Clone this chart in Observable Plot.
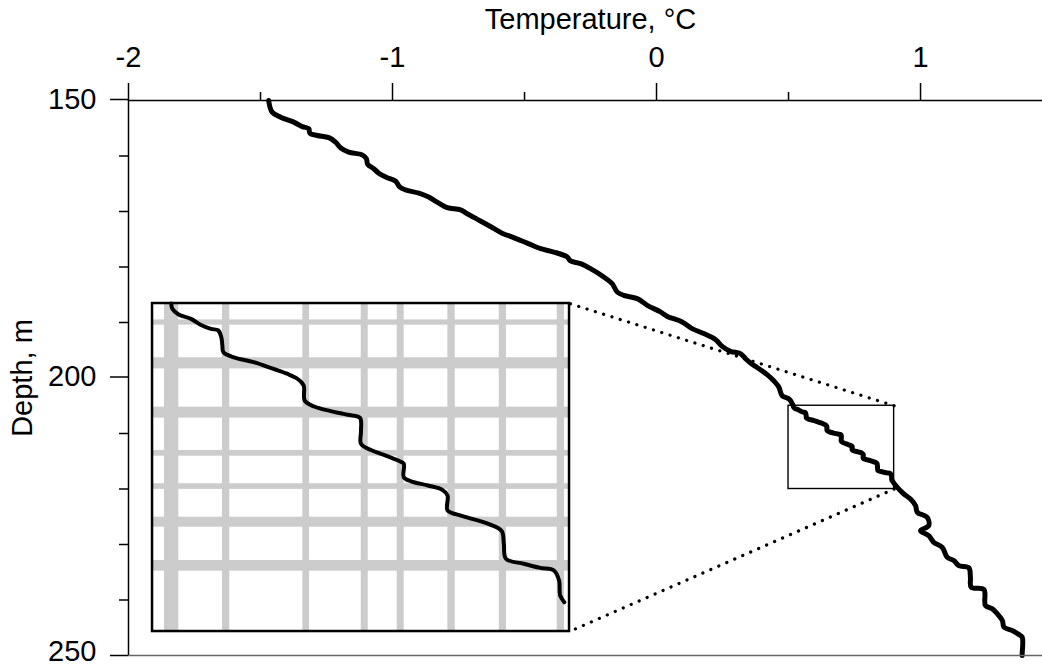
<!DOCTYPE html>
<html>
<head>
<meta charset="utf-8">
<script src="https://cdn.jsdelivr.net/npm/d3@7"></script>
<script src="https://cdn.jsdelivr.net/npm/@observablehq/plot@0.6"></script>
<style>
  html, body { margin: 0; padding: 0; background: #fff; }
  #chart svg { display: block; }
</style>
</head>
<body>
<div id="chart"></div>
<script>
// ---- data: temperature profile (depth in m, temperature in °C) ----
const depth = [
  150.0, 152.1, 153.0, 153.9, 154.7, 155.1, 155.9, 156.3, 156.7, 157.5,
  158.5, 159.3, 159.8, 160.5, 161.5, 162.3, 163.1, 163.9, 164.5, 165.6,
  166.1, 166.7, 167.4, 168.3, 169.3, 169.7, 170.4, 171.7, 172.7, 173.9,
  174.7, 175.7, 176.7, 177.3, 178.2, 178.9, 179.4, 180.3, 181.8, 183.0,
  184.5, 185.1, 185.7, 186.9, 188.1, 188.9, 189.9, 191.1, 192.0, 193.1,
  194.3, 195.2, 195.6, 196.5, 197.3, 198.1, 199.4, 200.5, 201.6, 203.2,
  203.6, 203.9, 204.7,
  205.0, 205.24, 205.5, 205.7, 205.97, 206.16, 206.23, 206.54, 206.92, 207.23,
  207.46, 207.68, 207.99, 208.21, 208.44, 208.75, 209.44, 209.71, 209.92, 210.09,
  210.23, 210.81, 211.42, 211.69, 211.98, 212.21, 212.33, 212.94, 213.13, 213.32,
  213.52, 213.78, 214.46, 214.69, 214.92, 215.11, 215.41, 215.99, 216.67, 216.90,
  217.09, 217.21, 217.67, 218.35, 218.66,
  219.7, 220.9, 221.8, 223.0, 224.2, 225.1, 226.6, 227.5, 228.4, 229.6,
  230.5, 232.3, 232.9, 233.8, 234.2, 235.9, 237.7, 238.1, 241.0, 241.6,
  242.5, 243.7, 244.9, 245.5, 246.2, 246.7, 249.7, 250.0
];
const temperature = [
  -1.469, -1.456, -1.424, -1.374, -1.342, -1.317, -1.313, -1.285, -1.241, -1.216,
  -1.197, -1.166, -1.115, -1.099, -1.094, -1.071, -1.052, -1.020, -0.989, -0.972,
  -0.951, -0.900, -0.863, -0.831, -0.793, -0.742, -0.717, -0.667, -0.629, -0.585,
  -0.541, -0.490, -0.439, -0.389, -0.338, -0.326, -0.288, -0.250, -0.200, -0.168,
  -0.149, -0.124, -0.073, -0.035, 0.015, 0.041, 0.097, 0.135, 0.179, 0.224,
  0.249, 0.280, 0.318, 0.337, 0.356, 0.381, 0.419, 0.444, 0.463, 0.476,
  0.495, 0.505, 0.515,
  0.518, 0.519, 0.525, 0.537, 0.546, 0.556, 0.563, 0.566, 0.567, 0.568,
  0.578, 0.597, 0.616, 0.629, 0.639, 0.645, 0.646, 0.655, 0.671, 0.687,
  0.699, 0.700, 0.700, 0.709, 0.725, 0.737, 0.741, 0.741, 0.748, 0.764,
  0.778, 0.783, 0.783, 0.795, 0.812, 0.824, 0.835, 0.837, 0.839, 0.856,
  0.872, 0.885, 0.890, 0.891, 0.895,
  0.912, 0.937, 0.962, 0.981, 0.988, 1.025, 1.031, 1.000, 1.031, 1.050,
  1.082, 1.101, 1.126, 1.145, 1.183, 1.189, 1.192, 1.240, 1.246, 1.272,
  1.291, 1.310, 1.316, 1.347, 1.372, 1.385, 1.385, 1.385
];

// zoomed window (data units)
const zoomTemp = [0.5, 0.9];
const zoomDepth = [205, 220];
const insetLineDepth = [205, 218.66];

// grey bands in the inset: temperature bands (°C) and depth bands (m)
const tempBandLo = [0.5115, 0.5671, 0.6442, 0.7002, 0.7347, 0.7833, 0.8326, 0.8882];
const tempBandHi = [0.5252, 0.5741, 0.6506, 0.7069, 0.7414, 0.7904, 0.8396, 0.8952];
const depthBandLo = [205.75, 207.48, 209.74, 211.72, 213.24, 214.77, 216.75];
const depthBandHi = [205.99, 207.99, 210.24, 211.98, 213.50, 215.23, 217.24];

// ticks
const xMajor = [-2, -1, 0, 1];
const xMinor = [-1.5, -0.5, 0.5];
const yMajor = [150, 200];
const yBottom = [250];
const yMinor = [160, 170, 180, 190, 210, 220, 230, 240];

// ---- layout ----
const insetBox = {t0: -1.909, t1: -0.3295, d0: 186.58, d1: 245.68}; // where the inset sits, in main-axis units
const ix = t => insetBox.t0 + (t - zoomTemp[0]) / (zoomTemp[1] - zoomTemp[0]) * (insetBox.t1 - insetBox.t0);
const iy = d => insetBox.d0 + (d - zoomDepth[0]) / (zoomDepth[1] - zoomDepth[0]) * (insetBox.d1 - insetBox.d0);

const profile = depth.map((d, i) => ({depth: d, temp: temperature[i]}));
const insetProfile = profile.filter(p => p.depth >= insetLineDepth[0] && p.depth <= insetLineDepth[1]);
const tempBands = tempBandLo.map((lo, i) => ({lo, hi: tempBandHi[i]}));
const depthBands = depthBandLo.map((lo, i) => ({lo, hi: depthBandHi[i]}));

const FONT = "Liberation Sans, Arial, Helvetica, sans-serif";
const FS = 29;

const chart = Plot.plot({
  width: 1042,
  height: 668,
  marginTop: 100,
  marginLeft: 128,
  marginRight: 0,
  marginBottom: 13,
  style: {fontFamily: FONT, fontSize: FS + "px", background: "#fff", color: "#000"},
  x: {domain: [-2, 1.462], axis: null},
  y: {domain: [150, 250], reverse: true, axis: null},
  marks: [
    // inset background and grey bands
    Plot.rect([insetBox], {x1: b => b.t0, x2: b => b.t1, y1: b => b.d0, y2: b => b.d1, fill: "#fff"}),
    Plot.rect(tempBands, {x1: b => ix(b.lo), x2: b => ix(b.hi), y1: () => insetBox.d0, y2: () => insetBox.d1, fill: "#cccccc"}),
    Plot.rect(depthBands, {x1: () => insetBox.t0, x2: () => insetBox.t1, y1: b => iy(b.lo), y2: b => iy(b.hi), fill: "#cccccc"}),
    Plot.line(insetProfile, {x: p => ix(p.temp), y: p => iy(p.depth), stroke: "#000", strokeWidth: 4, strokeLinejoin: "round", strokeLinecap: "round", curve: "catmull-rom"}),
    Plot.rect([insetBox], {x1: b => b.t0, x2: b => b.t1, y1: b => b.d0, y2: b => b.d1, fill: "none", stroke: "#000", strokeWidth: 2.5}),
    // connectors
    Plot.link([zoomDepth[0], zoomDepth[1]], {
      x1: () => zoomTemp[1], y1: d => d,
      x2: () => insetBox.t1, y2: d => iy(d),
      stroke: "#000", strokeWidth: 3.2, strokeDasharray: "0.1 8.6", strokeLinecap: "round"
    }),
    // zoom window
    Plot.rect([0], {x1: () => zoomTemp[0], x2: () => zoomTemp[1], y1: () => zoomDepth[0], y2: () => zoomDepth[1], fill: "none", stroke: "#000", strokeWidth: 1.4}),
    // main profile
    Plot.line(profile, {x: "temp", y: "depth", stroke: "#000", strokeWidth: 5, strokeLinejoin: "round", curve: "catmull-rom"}),
    // frame lines
    Plot.ruleY([250], {stroke: "#666", strokeWidth: 1.5}),
    Plot.ruleY([150], {stroke: "#000", strokeWidth: 1.5}),
    Plot.ruleX([-2], {stroke: "#000", strokeWidth: 1.5}),
    // axes
    Plot.axisX(xMajor, {anchor: "top", tickSize: 18, tickPadding: 16, strokeWidth: 1.5, fontSize: FS, label: null, tickFormat: d => String(d)}),
    Plot.axisX(xMinor, {anchor: "top", tickSize: 9, strokeWidth: 1.5, label: null, tickFormat: () => ""}),
    Plot.axisY(yMajor, {anchor: "left", tickSize: 18, tickPadding: 14, strokeWidth: 1.5, fontSize: FS, label: null, tickFormat: d => String(d), dy: -1}),
    Plot.axisY(yBottom, {anchor: "left", tickSize: 18, strokeWidth: 1.5, label: null, tickFormat: () => ""}),
    Plot.text(yBottom, {y: d => d, frameAnchor: "left", dx: -32, dy: -4, textAnchor: "end", lineAnchor: "middle", text: d => String(d), fontSize: FS}),
    Plot.axisY(yMinor, {anchor: "left", tickSize: 9, strokeWidth: 1.5, label: null, tickFormat: () => ""}),
    // axis titles
    Plot.text(["Temperature, °C"], {frameAnchor: "top", text: d => d, dx: 5, dy: -72, lineAnchor: "bottom", textAnchor: "middle", fontSize: FS}),
    Plot.text(["Depth, m"], {frameAnchor: "left", text: d => d, dx: -106, rotate: -90, lineAnchor: "middle", textAnchor: "middle", fontSize: FS})
  ]
});
document.getElementById("chart").appendChild(chart);
</script>
</body>
</html>
